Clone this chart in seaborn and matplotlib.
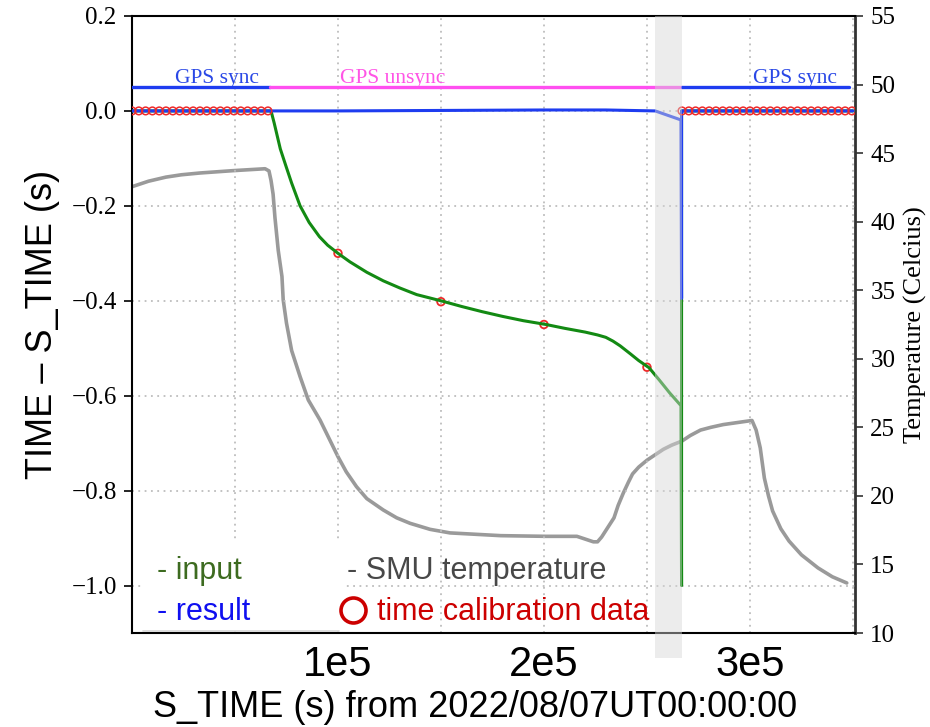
import numpy as np
import pandas as pd
import matplotlib
matplotlib.use("Agg")
import matplotlib.pyplot as plt
from matplotlib.patches import Rectangle
from matplotlib.lines import Line2D
import seaborn as sns

# ---------------- data (x in seconds) ----------------
temp_x = [0, 8000, 16500, 24000, 33000, 49000, 64600, 66500, 67500, 68500,
          69400, 71000, 72800, 73400, 75000, 77500, 81600, 85600, 91300, 100000,
          104000, 109000, 114000, 122000, 128500, 135000, 144700, 154400, 179000,
          201000, 216000, 219000, 221000, 224000, 226000, 228000, 231000, 234000,
          236000, 238500, 241000, 243000, 246000, 250000, 254000, 258000, 262000,
          267000, 271000, 276000, 281000, 287000, 294000, 301000, 303000, 305000,
          307000, 309000, 311000, 315000, 319000, 325000, 333000, 340000, 347000]
temp_y = [42.55, 42.95, 43.25, 43.42, 43.55, 43.72, 43.86, 43.7, 43.0, 42.0,
          40.3, 37.9, 36.0, 34.3, 32.6, 30.6, 28.7, 26.99, 25.53, 22.86,
          21.76, 20.67, 19.8, 18.97, 18.4, 18.0, 17.56, 17.3, 17.1,
          17.05, 17.05, 16.9, 16.8, 16.65, 16.65, 17.0, 17.7, 18.4,
          19.3, 20.2, 21.0, 21.6, 22.1, 22.6, 23.0, 23.4, 23.7,
          24.0, 24.4, 24.8, 25.0, 25.2, 25.35, 25.5, 24.8, 23.5,
          21.3, 20.0, 18.9, 17.6, 16.7, 15.7, 14.75, 14.1, 13.65]

input_x = [0, 67000, 67500, 69000, 70200, 72000, 74800, 77500, 81600, 86000, 91000,
           95000, 100000, 105800, 114000, 122000, 130000, 138200, 150800, 160000,
           170000, 180000, 190000, 201000, 210000, 220000, 226000, 230000, 233500,
           237000, 242000, 246000, 251000, 256000, 261000, 266500, 266800, 266800, 350000]
input_y = [0.0, 0.0, 0.0, -0.025, -0.047, -0.080, -0.117, -0.152, -0.200, -0.235,
           -0.265, -0.283, -0.300, -0.318, -0.340, -0.358, -0.373, -0.387, -0.401,
           -0.412, -0.423, -0.433, -0.442, -0.450, -0.458, -0.466, -0.472, -0.477,
           -0.485, -0.495, -0.512, -0.526, -0.541, -0.567, -0.594, -0.621, -1.0, 0.0, 0.0]

result_x = [0, 67000, 100000, 150000, 200000, 230000, 254000, 266500, 266800, 266800, 350000]
result_y = [0.0, 0.0, 0.0, 0.001, 0.002, 0.002, 0.0, -0.019, -0.395, 0.0, 0.0]

calib_left_x = [0, 3300, 6600, 9900, 13200, 16500, 19800, 23100, 26400, 29700, 33000,
                36300, 39600, 42900, 46200, 49500, 52800, 56100, 59400, 62700, 66000]
calib_right_x = [267000, 270300, 273600, 276900, 280200, 283500, 286800, 290100, 293400,
                 296700, 300000, 303300, 306600, 309900, 313200, 316500, 319800, 323100,
                 326400, 329700, 333000, 336300, 339600, 342900, 346200, 349500]
calib_mid_x = [100000, 150000, 200000, 250000]
calib_mid_y = [-0.300, -0.402, -0.450, -0.540]

gps_sync1_x = [0, 67000]
gps_unsync_x = [67000, 266800]
gps_sync2_x = [266800, 348000]
gps_level = 0.05

gap_start, gap_end = 254000, 267000

xtick_vals = [0, 50000, 100000, 150000, 200000, 250000, 300000, 350000]
xtick_labels = ["", "", "1e5", "", "2e5", "", "3e5", ""]
ytick_vals = [-1.0, -0.8, -0.6, -0.4, -0.2, 0.0, 0.2]
ytick2_vals = [10, 15, 20, 25, 30, 35, 40, 45, 50, 55]

# ---------------- figure ----------------
sns.set_style("white")
plt.rcParams["font.family"] = ["Liberation Sans", "DejaVu Sans"]
plt.rcParams["text.color"] = "black"
plt.rcParams["axes.labelcolor"] = "black"
plt.rcParams["xtick.color"] = "black"
plt.rcParams["ytick.color"] = "black"

fig = plt.figure(figsize=(9.3, 7.27), dpi=100)
ax = fig.add_axes([132 / 930, 1 - 633 / 727, 723 / 930, 617 / 727])
ax2 = ax.twinx()
ax.set_zorder(ax2.get_zorder() + 1)
ax.patch.set_visible(False)

BLUE = "#1e3cf0"
GREEN = "#138a13"
MAG = "#ff4ff0"
GRAY = "#9a9a9a"
RED = "#ee2a2a"

# temperature on right axis
sns.lineplot(x=temp_x, y=temp_y, ax=ax2, color=GRAY, lw=2.6, sort=False, estimator=None)

# input / result
sns.lineplot(x=input_x, y=input_y, ax=ax, color=GREEN, lw=2.2, sort=False, estimator=None, zorder=3)
sns.lineplot(x=result_x, y=result_y, ax=ax, color=BLUE, lw=2.2, sort=False, estimator=None, zorder=4)

# calibration points
calib_x = calib_left_x + calib_right_x
ax.scatter(calib_x, [0.0] * len(calib_x), s=30, facecolors="none", edgecolors=RED,
           linewidths=1.1, zorder=5, clip_on=True)
ax.scatter(calib_mid_x, calib_mid_y, s=30, facecolors="none", edgecolors=RED,
           linewidths=1.3, zorder=2)

# GPS sync status lines
sns.lineplot(x=gps_sync1_x, y=[gps_level] * 2, ax=ax, color=BLUE, lw=2.4, zorder=4)
sns.lineplot(x=gps_unsync_x, y=[gps_level] * 2, ax=ax, color=MAG, lw=2.4, zorder=4)
sns.lineplot(x=gps_sync2_x, y=[gps_level] * 2, ax=ax, color=BLUE, lw=2.4, zorder=4)

ax.text(41500, 0.058, "GPS sync", color="#2a48e6", fontsize=15.5,
        family="Liberation Serif", ha="center", va="baseline")
ax.text(126700, 0.058, "GPS unsync", color="#ff55e6", fontsize=15.5,
        family="Liberation Serif", ha="center", va="baseline")
ax.text(322000, 0.058, "GPS sync", color="#2a48e6", fontsize=15.5,
        family="Liberation Serif", ha="center", va="baseline")

# gap shading
ax.axvspan(gap_start, gap_end, ymin=-0.04, ymax=1, color="#d6d6d6", alpha=0.45,
           lw=0, zorder=8, clip_on=False)

# axes limits / ticks
ax.set_xlim(0, 351000)
ax.set_ylim(-1.1, 0.2)
ax2.set_ylim(10, 55)
ax.set_xticks(xtick_vals)
ax.set_xticklabels(xtick_labels, fontsize=30, family="Liberation Sans")
ax.set_yticks(ytick_vals)
ax.set_yticklabels([f"{v:.1f}".replace("-", "\u2212") for v in ytick_vals],
                   fontsize=18, family="Liberation Serif")
ax2.set_yticks(ytick2_vals)
ax2.set_yticklabels([str(v) for v in ytick2_vals], fontsize=18, family="Liberation Serif")

ax.tick_params(axis="both", direction="out", length=6, width=1.2, color="black")
ax.tick_params(axis="x", pad=3)
ax.tick_params(axis="y", pad=5)
ax2.tick_params(axis="y", direction="out", length=6, width=1.2, color="#333333", pad=5)

ax.grid(True, linestyle=(0, (1, 2.5)), color="#bdbdbd", lw=1.3)
ax2.grid(False)

for s in ["left", "bottom", "top"]:
    ax.spines[s].set_color("black")
    ax.spines[s].set_linewidth(1.5)
ax.spines["right"].set_visible(False)
ax2.spines["right"].set_color("#333333")
ax2.spines["right"].set_linewidth(2.0)
for s in ["left", "bottom", "top"]:
    ax2.spines[s].set_visible(False)

ax.set_xlabel("S_TIME (s) from 2022/08/07UT00:00:00", fontsize=26,
              family="Liberation Sans", color="black")
ax.xaxis.set_label_coords(0.474, -0.092)
ax.set_ylabel("TIME \u2013 S_TIME (s)", fontsize=26, family="Liberation Sans",
              labelpad=8, color="black")
ax2.set_ylabel("Temperature (Celcius)", fontsize=19, family="Liberation Serif",
               labelpad=6, color="black")

# legend-like annotation block
ax.add_patch(Rectangle((0.015, 0.003), 0.281, 0.15, transform=ax.transAxes,
                       facecolor="white", edgecolor="none", zorder=6))
ax.add_line(Line2D([0.015, 0.286], [0.004, 0.004], transform=ax.transAxes,
                   color="#d5d5d5", lw=1.2, zorder=7))
ax.text(0.035, 0.088, "- input", transform=ax.transAxes, fontsize=22,
        color="#3d6b20", va="baseline", zorder=9)
ax.text(0.035, 0.021, "- result", transform=ax.transAxes, fontsize=22,
        color="#1010f0", va="baseline", zorder=9)
ax.text(0.297, 0.088, "- SMU temperature", transform=ax.transAxes, fontsize=22,
        color="#484848", va="baseline", zorder=9)
ax.plot([0.3057], [0.0373], transform=ax.transAxes, marker="o", ms=18, mfc="none",
        mec="#cc0000", mew=2.6, ls="none", clip_on=False, zorder=9)
ax.text(0.339, 0.021, "time calibration data", transform=ax.transAxes, fontsize=22,
        color="#cc0000", va="baseline", zorder=9)

fig.savefig("out.png", dpi=100)
